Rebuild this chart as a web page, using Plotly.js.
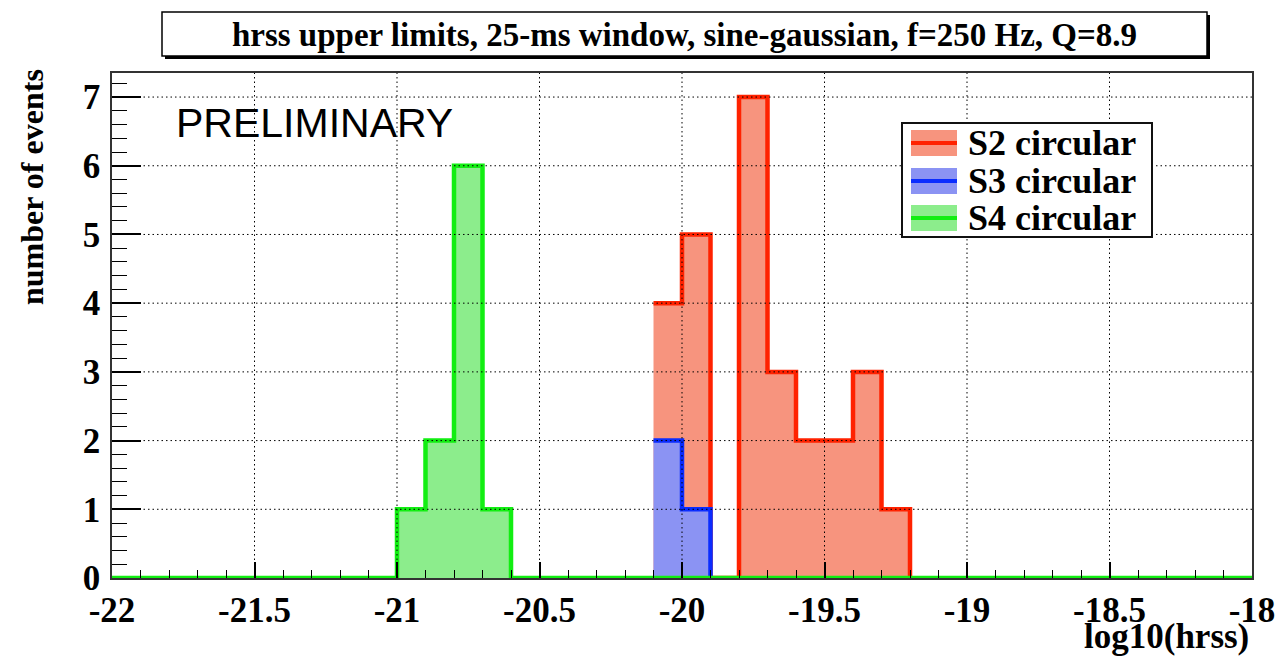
<!DOCTYPE html>
<html>
<head>
<meta charset="utf-8">
<script src="https://cdn.plot.ly/plotly-3.0.1.min.js"></script>
<style>
  html, body { margin: 0; padding: 0; background: #ffffff; }
  #chart { width: 1281px; height: 658px; }
</style>
</head>
<body>
<div id="chart"></div>
<script>
// log10(hrss) histograms, 0.1-wide bins over [-22, -18]
const xMin = -22;
const xMax = -18;
const binWidth = 0.1;

const s2FirstBin = -20.1;
const s2Counts = [4, 5, 0, 7, 3, 2, 2, 3, 1];

const s3FirstBin = -20.1;
const s3Counts = [2, 1];

const s4FirstBin = -21.0;
const s4Counts = [1, 2, 6, 1];

const seriesNames = ['S2 circular', 'S3 circular', 'S4 circular'];

const xTickVals = [-22, -21.5, -21, -20.5, -20, -19.5, -19, -18.5, -18];
const xTickText = ['-22', '-21.5', '-21', '-20.5', '-20', '-19.5', '-19', '-18.5', '-18'];
const yTickVals = [0, 1, 2, 3, 4, 5, 6, 7];
const yTickText = ['0', '1', '2', '3', '4', '5', '6', '7'];

const titleText = 'hrss upper limits, 25-ms window, sine-gaussian, f=250 Hz, Q=8.9';
const xTitleText = 'log10(hrss)';
const yTitleText = 'number of events';
const stampText = 'PRELIMINARY';

// Histogram outline as step points (hv): rise at the first edge, drop after the last bin.
function stepOutline(first, counts, lo, hi) {
  const x = [], y = [];
  if (lo !== undefined) { x.push(lo); y.push(0); }
  counts.forEach((c, i) => {
    x.push(+(first + i * binWidth).toFixed(4));
    y.push(c);
  });
  x.push(+(first + counts.length * binWidth).toFixed(4));
  y.push(0);
  if (hi !== undefined) { x.push(hi); y.push(0); }
  return { x, y };
}

const styles = [
  { line: '#ff2200', fill: '#f7947e' },
  { line: '#0a2cff', fill: '#8b93f3' },
  { line: '#12ee12', fill: '#8ced8c' }
];

const paths = [
  stepOutline(s2FirstBin, s2Counts),
  stepOutline(s3FirstBin, s3Counts),
  stepOutline(s4FirstBin, s4Counts, xMin, xMax)
];

const traces = paths.map((p, i) => ({
  type: 'scatter',
  mode: 'lines',
  name: seriesNames[i],
  x: p.x,
  y: p.y,
  line: { shape: 'hv', color: styles[i].line, width: 4.5 },
  fill: 'tozeroy',
  fillcolor: styles[i].fill,
  cliponaxis: false,
  showlegend: false,
  hoverinfo: 'x+y+name'
}));

// Frame geometry in pixels (for placing the boxed title and the key)
const W = 1281, H = 658;
const M = { l: 112, r: 29, t: 73, b: 80 };
const plotW = W - M.l - M.r, plotH = H - M.t - M.b;
const px = v => (v - M.l) / plotW;
const py = v => (H - M.b - v) / plotH;

const serif = 'Liberation Serif, Times New Roman, serif';
const sans = 'Liberation Sans, Arial, sans-serif';

const shapes = [];
const annotations = [];

// Boxed title with drop shadow
shapes.push({ type: 'rect', xref: 'paper', yref: 'paper', x0: px(165), x1: px(1210), y0: py(59), y1: py(15),
  fillcolor: '#000', line: { width: 0 } });
shapes.push({ type: 'rect', xref: 'paper', yref: 'paper', x0: px(162), x1: px(1207), y0: py(56), y1: py(12),
  fillcolor: '#fff', line: { color: '#000', width: 1.5 } });

// Dotted grid drawn over the filled histograms
const gridLine = { color: '#000', width: 1, dash: '1.5px,3px' };
xTickVals.filter(v => v > xMin && v < xMax).forEach(v => {
  shapes.push({ type: 'line', layer: 'above', xref: 'x', yref: 'paper', x0: v, x1: v, y0: 0, y1: 1, line: gridLine });
});
yTickVals.filter(v => v > 0).forEach(v => {
  shapes.push({ type: 'line', layer: 'above', xref: 'paper', yref: 'y', x0: 0, x1: 1, y0: v, y1: v, line: gridLine });
});

// Key box
const keyRows = [143, 181, 218];
shapes.push({ type: 'rect', layer: 'above', xref: 'paper', yref: 'paper', x0: px(902), x1: px(1152), y0: py(237), y1: py(123),
  fillcolor: '#fff', line: { color: '#111', width: 2 } });
keyRows.forEach((cy, i) => {
  shapes.push({ type: 'rect', layer: 'above', xref: 'paper', yref: 'paper', x0: px(911), x1: px(957), y0: py(cy + 13), y1: py(cy - 13),
    fillcolor: styles[i].fill, line: { width: 0 } });
  shapes.push({ type: 'line', layer: 'above', xref: 'paper', yref: 'paper', x0: px(911), x1: px(957), y0: py(cy), y1: py(cy),
    line: { color: styles[i].line, width: 4 } });
  annotations.push({ xref: 'paper', yref: 'paper', x: px(966), y: py(cy), xanchor: 'left', yanchor: 'middle',
    text: seriesNames[i], showarrow: false, font: { family: serif, size: 36, color: '#000', weight: 'bold' } });
});

// Stamp, axis titles
annotations.push({ xref: 'paper', yref: 'paper', x: px(174), y: py(123), xanchor: 'left', yanchor: 'middle',
  text: stampText, showarrow: false, font: { family: sans, size: 41, color: '#000' } });
annotations.push({ xref: 'paper', yref: 'paper', x: px(1251), y: py(658), xanchor: 'right', yanchor: 'bottom',
  text: xTitleText, showarrow: false, font: { family: serif, size: 35, color: '#000', weight: 'bold' } });
annotations.push({ xref: 'paper', yref: 'paper', x: px(32), y: py(187), xanchor: 'center', yanchor: 'middle',
  textangle: -90, text: yTitleText, showarrow: false, font: { family: serif, size: 32, color: '#000', weight: 'bold' } });

const layout = {
  width: W,
  height: H,
  margin: M,
  paper_bgcolor: '#ffffff',
  plot_bgcolor: '#ffffff',
  showlegend: false,
  title: {
    text: titleText,
    font: { family: serif, size: 33, color: '#000', weight: 'bold' },
    x: 684.5 / W, xanchor: 'center', xref: 'container',
    y: 1 - 34 / H, yanchor: 'middle', yref: 'container'
  },
  xaxis: {
    range: [xMin, xMax],
    tickmode: 'array', tickvals: xTickVals, ticktext: xTickText,
    ticks: 'inside', ticklen: 16, tickwidth: 1.5, tickcolor: '#000',
    minor: { tick0: xMin, dtick: binWidth, ticks: 'inside', ticklen: 8, tickwidth: 1.2, tickcolor: '#000', showgrid: false },
    showgrid: false,
    zeroline: false,
    showline: true, mirror: true, linecolor: '#333', linewidth: 1.5,
    tickfont: { family: serif, size: 35, color: '#000', weight: 'bold' },
    layer: 'above traces'
  },
  yaxis: {
    range: [0, 7.35],
    tickmode: 'array', tickvals: yTickVals, ticktext: yTickText,
    ticks: 'inside', ticklen: 29, tickwidth: 1.5, tickcolor: '#000',
    minor: { tick0: 0, dtick: 0.2, ticks: 'inside', ticklen: 15, tickwidth: 1.2, tickcolor: '#000', showgrid: false },
    showgrid: false,
    zeroline: false,
    showline: true, mirror: true, linecolor: '#333', linewidth: 1.5,
    tickfont: { family: serif, size: 35, color: '#000', weight: 'bold' },
    ticklabelstandoff: 3,
    layer: 'above traces'
  },
  shapes: shapes,
  annotations: annotations
};

Plotly.newPlot('chart', traces, layout, { displayModeBar: false, responsive: false });
</script>
</body>
</html>
